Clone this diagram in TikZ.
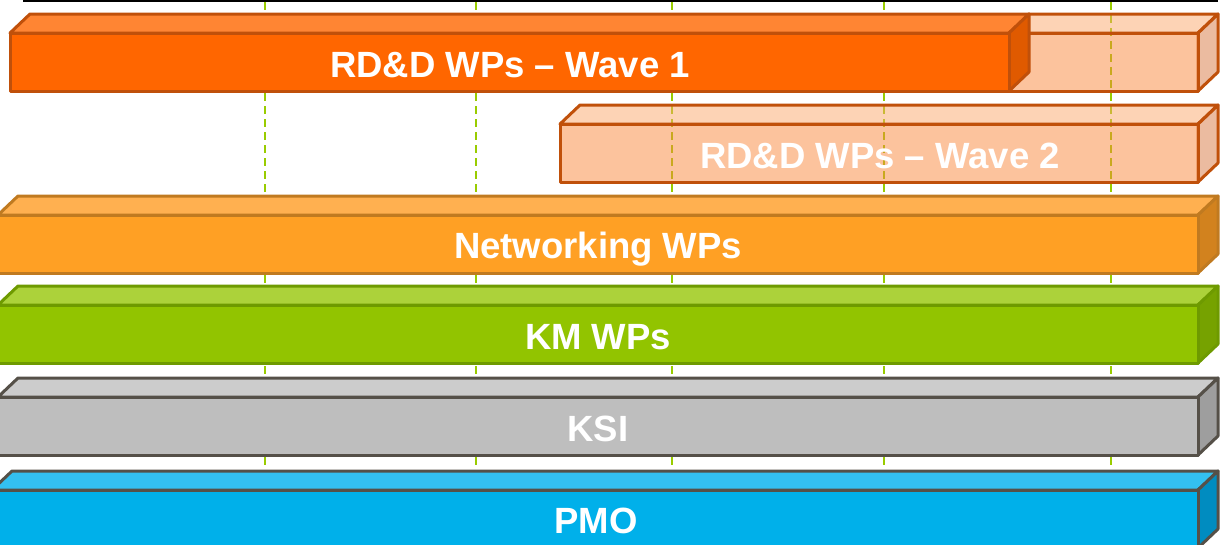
\documentclass[tikz,border=0pt]{standalone}
\usepackage{fontspec}
\setmainfont{Liberation Sans}
\usetikzlibrary{positioning}
\definecolor{mgreen}{RGB}{153, 204, 0}
\definecolor{wonefront}{RGB}{255, 102, 0}
\definecolor{wonetop}{RGB}{255, 133, 51}
\definecolor{woneside}{RGB}{224, 90, 0}
\definecolor{woneline}{RGB}{192, 80, 10}
\definecolor{wtwofront}{RGB}{250, 135, 60}
\definecolor{wtwotop}{RGB}{251, 167, 107}
\definecolor{wtwoside}{RGB}{215, 119, 65}
\definecolor{netfront}{RGB}{255, 160, 36}
\definecolor{nettop}{RGB}{255, 176, 80}
\definecolor{netside}{RGB}{210, 130, 30}
\definecolor{netline}{RGB}{192, 122, 32}
\definecolor{kmfront}{RGB}{146, 196, 0}
\definecolor{kmtop}{RGB}{172, 210, 58}
\definecolor{kmside}{RGB}{118, 162, 0}
\definecolor{kmline}{RGB}{110, 154, 0}
\definecolor{ksifront}{RGB}{190, 190, 190}
\definecolor{ksitop}{RGB}{204, 204, 204}
\definecolor{ksiside}{RGB}{158, 158, 158}
\definecolor{darkline}{RGB}{85, 80, 72}
\definecolor{pmofront}{RGB}{0, 176, 234}
\definecolor{pmotop}{RGB}{51, 192, 240}
\definecolor{pmoside}{RGB}{0, 140, 192}
\tikzset{lbl/.style = {text = white, font = \bfseries\fontsize{36.5}{40}\selectfont,
                       text height = 26pt, text depth = 0pt, inner sep = 0}}
\tikzset{gridline/.style = {draw = mgreen, line width = 2, dash pattern = on 8 off 5}}
% #1 left, #2 right, #3 top of front face, #4-#6 fills, #7 border, #8 opacity
\newcommand{\wpbox}[8]{%
  \begin{scope}[line width = 3, line join = round, draw = #7, fill opacity = #8]
    \filldraw [fill = #5] (#1, #3) -- ++(20, -19) -- (#2+20, #3-19) -- (#2, #3) -- cycle;
    \filldraw [fill = #6] (#2, #3) -- ++(20, -19) -- ++(0, 58) -- (#2, #3+58) -- cycle;
    \filldraw [fill = #4] (#1, #3) rectangle (#2, #3+58);
  \end{scope}}

\begin{document}
\begin{tikzpicture}[x = 1pt, y = -1pt]
      \useasboundingbox (0, 0) rectangle (1223, 544);
      \clip (0, 0) rectangle (1223, 544);

      \draw [line width = 2] (23, 1) -- (1218, 1);
      \foreach \gx in {265, 476, 672, 884, 1111}
        \draw [gridline] (\gx, 2) -- (\gx, 465);

      \wpbox{1009}{1198}{33}{wtwofront}{wtwotop}{wtwoside}{woneline}{0.5}
      \wpbox{10}{1009}{33}{wonefront}{wonetop}{woneside}{woneline}{1}
      \wpbox{560}{1198}{124}{wtwofront}{wtwotop}{wtwoside}{woneline}{0.5}
      \wpbox{-2}{1198}{215}{netfront}{nettop}{netside}{netline}{1}
      \wpbox{-2}{1198}{305}{kmfront}{kmtop}{kmside}{kmline}{1}
      \wpbox{-2}{1198}{397}{ksifront}{ksitop}{ksiside}{darkline}{1}
      \wpbox{-8}{1198}{490}{pmofront}{pmotop}{pmoside}{darkline}{1}

      \node [lbl] (waveone) at (510, 64) {RD\&D WPs -- Wave 1};
      \node [lbl] (wavetwo) at (880, 155) {RD\&D WPs -- Wave 2};
      \node [lbl] (netwp) at (598, 245) {Networking WPs};
      \node [lbl] (kmwp) at (598, 336) {KM WPs};
      \node [lbl] (ksi) at (598, 428) {KSI};
      \node [lbl] (pmo) at (596, 520) {PMO};
    \end{tikzpicture}
\end{document}
